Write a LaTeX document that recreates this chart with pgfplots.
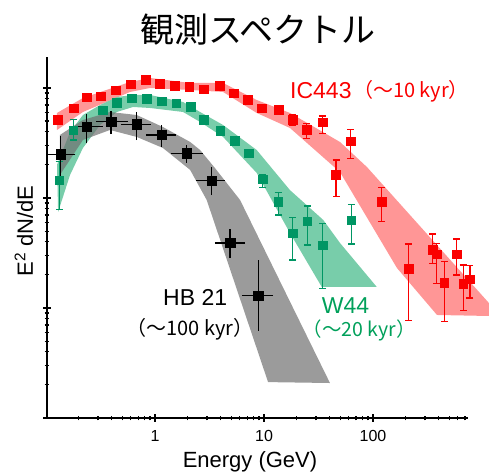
\documentclass[border=0pt]{standalone}
\usepackage{pgfplots}
\pgfplotsset{compat=1.18}
\usepackage{fontspec}
\setmainfont{Liberation Sans}
\newfontfamily\jp{Noto Sans CJK JP}
\definecolor{rd}{RGB}{250,0,0}
\definecolor{rdband}{RGB}{255,150,150}
\definecolor{gr}{RGB}{0,150,100}
\definecolor{grband}{RGB}{120,205,170}
\definecolor{grtext}{RGB}{0,160,90}
\definecolor{gyband}{RGB}{112,112,112}
\begin{document}
\begin{tikzpicture}
\path[use as bounding box] (-47pt,-53pt) rectangle (442pt,418pt);
\begin{axis}[
  at={(0pt,0pt)}, anchor=south west,
  scale only axis, width=421pt, height=361pt,
  xmode=log, ymode=log,
  xmin=0.102, xmax=745, ymin=1, ymax=1913,
  axis lines=left, axis line style={-, line width=1.6pt},
  clip=false,
  xtick={1,10,100}, xticklabels={1,10,100},
  minor xtick={0.2,0.3,0.4,0.5,0.6,0.7,0.8,0.9,2,3,4,5,6,7,8,9,20,30,40,50,60,70,80,90,200,300,400,500,600,700},
  ytick={1,10,100,1000}, yticklabels={},
  minor ytick={2,3,4,5,6,7,8,9,20,30,40,50,60,70,80,90,200,300,400,500,600,700,800,900},
  major tick length=8pt, minor tick length=5pt,
  tick style={line width=1.2pt, black},
  xticklabel style={font=\fontsize{16}{16}\selectfont, yshift=-5pt},
  /pgf/number format/assume math mode=true,
]
% bands
\addplot[fill=rdband, draw=none] coordinates {
 (0.126,593) (0.218,811) (0.590,1135) (0.90,1233) (2.10,1110) (4.21,1110) (8.57,778) (17.3,593) (49.8,323) (88.1,191) (1159,11.1)
 (1159,8.46) (387,8.64) (166,23.1) (49.8,172) (17.3,433) (8.57,593) (4.21,920) (2.10,959) (0.90,1000) (0.590,920) (0.218,605) (0.126,415)
} -- cycle;
\addplot[fill=grband, draw=none] coordinates {
 (0.126,200) (0.166,398) (0.218,568) (0.313,700) (0.446,828) (0.628,864) (0.90,864) (1.81,746) (2.59,605) (4.21,461) (8.57,273) (17.3,118) (35.0,63.1) (49.8,39.0) (108,15.6)
 (33.8,15.6) (17.3,48.1) (8.57,169) (4.21,359) (2.59,491) (1.81,605) (0.90,658) (0.628,672) (0.446,605) (0.313,461) (0.218,285) (0.166,162) (0.129,74.6)
} -- cycle;
\addplot[fill=gyband, fill opacity=0.7, draw=none] coordinates {
 (0.134,374) (0.218,512) (0.386,605) (0.679,568) (1.18,442) (2.10,323) (2.59,273) (3.55,187) (6.03,95.9) (40.3,2.08)
 (10.9,2.12) (2.98,95.9) (2.10,180) (1.18,285) (0.679,359) (0.386,415) (0.218,337) (0.134,162)
} -- cycle;
% red points
\addplot[only marks, mark=square*, mark size=4.4pt, color=rd, mark options={draw=none, fill=rd}] coordinates {
 (0.127,519) (0.178,654) (0.236,823) (0.318,841) (0.432,953) (0.598,1081) (0.826,1199) (1.11,1087) (1.52,1050) (2.06,1028) (2.82,973) (3.89,1050) (5.23,895) (7.13,778) (9.59,654) (13.6,640)
};
\addplot[only marks, mark=square*, mark size=4.4pt, color=rd, mark options={draw=none, fill=rd},
  error bars/.cd, y dir=both, y explicit,
  error bar style={line width=1.3pt, rd},
  error mark options={rotate=90, mark size=3.5pt, line width=1.3pt, rd}] coordinates {
 (18.3,512) += (0,56) -= (0,51)
 (24.6,415) += (0,63) -= (0,66)
 (34.3,488) += (0,68) -= (0,101)
 (45.8,162) += (0,59) -= (0,59)
 (62.4,328) += (0,93) -= (0,100)
 (120,92.5) += (0,31.5) -= (0,31.6)
 (211,22.9) += (0,15.3) -= (0,15.2)
 (353,33.7) += (0,13.4) -= (0,8.2)
 (384,30.8) += (0,7.9) -= (0,14)
 (451,17.1) += (0,9.3) -= (0,9.6)
 (586,30.8) += (0,11.6) -= (0,10.8)
 (673,16.5) += (0,8.1) -= (0,7.05)
 (776,18.3) += (0,5.9) -= (0,6.0)
};
% green points
\addplot[only marks, mark=square*, mark size=4.2pt, color=gr, mark options={draw=none, fill=gr}] coordinates {
 (0.331,631) (0.446,735) (0.611,806) (0.836,798) (1.15,759) (1.56,726) (2.13,676) (2.80,515) (3.95,408) (5.40,332) (7.26,255)
};
\addplot[only marks, mark=square*, mark size=4.2pt, color=gr, mark options={draw=none, fill=gr},
  error bars/.cd, y dir=both, y explicit,
  error bar style={line width=1.3pt, gr},
  error mark options={rotate=90, mark size=3.5pt, line width=1.3pt, gr}] coordinates {
 (0.132,146) += (0,68) -= (0,67)
 (0.178,415) += (0,104) -= (0,78)
 (9.73,149) += (0,15) -= (0,24)
 (13.5,92.5) += (0,19.5) -= (0,22.5)
 (18.3,47.8) += (0,18.4) -= (0,20.5)
 (25.0,61.8) += (0,22.8) -= (0,24.4)
 (34.6,37.4) += (0,21.5) -= (0,22.3)
 (63.2,63.1) += (0,24.5) -= (0,24.9)
};
% black points
\addplot[only marks, mark=square*, mark size=4.7pt, color=black, mark options={draw=none, fill=black},
  error bars/.cd, x dir=both, x explicit, y dir=both, y explicit,
  error bar style={line width=1.3pt, black},
  error mark options={mark size=2.5pt, line width=1.3pt, black}] coordinates {
 (0.136,250) += (0.040,94) -= (0.027,94)
 (0.236,445) += (0.077,103) -= (0.058,115)
 (0.395,494) += (0.136,95) -= (0.093,93)
 (0.679,468) += (0.189,109) -= (0.167,115)
 (1.15,374) += (0.32,62) -= (0.282,66)
 (1.95,255) += (0.64,32) -= (0.48,34)
 (3.31,144) += (0.83,36) -= (0.81,32)
 (4.88,39.0) += (1.50,10.4) -= (1.15,8.7)
 (8.87,12.9) += (2.63,12.9) -= (2.18,6.36)
};
\end{axis}
\node[anchor=center, inner sep=0pt, font=\jp\fontsize{34}{34}\selectfont] at (211pt,388pt) {観測スペクトル};
\node[rotate=90, anchor=base, inner sep=0pt, font=\fontsize{22}{22}\selectfont] at (-14pt,187pt) {E\textsuperscript{2} dN/dE};
\node[anchor=base, inner sep=0pt, font=\fontsize{22}{22}\selectfont] at (203pt,-49.5pt) {Energy (GeV)};
\node[anchor=base west, inner sep=0pt, text=rd, font=\fontsize{23}{23}\selectfont] at (243pt,319.7pt) {IC443};
\node[anchor=base, inner sep=0pt, text=rd, font=\jp\fontsize{20}{20}\selectfont] at (364pt,320.5pt) {（〜10 kyr）};
\node[anchor=base west, inner sep=0pt, font=\fontsize{23}{23}\selectfont] at (116pt,113pt) {HB 21};
\node[anchor=base, inner sep=0pt, font=\jp\fontsize{20}{20}\selectfont] at (143pt,83pt) {（〜100 kyr）};
\node[anchor=base west, inner sep=0pt, text=grtext, font=\fontsize{23}{23}\selectfont] at (274.7pt,105pt) {W44};
\node[anchor=base, inner sep=0pt, text=grtext, font=\jp\fontsize{19.5}{19.5}\selectfont] at (312.2pt,82pt) {（〜20 kyr）};
\end{tikzpicture}
\end{document}
